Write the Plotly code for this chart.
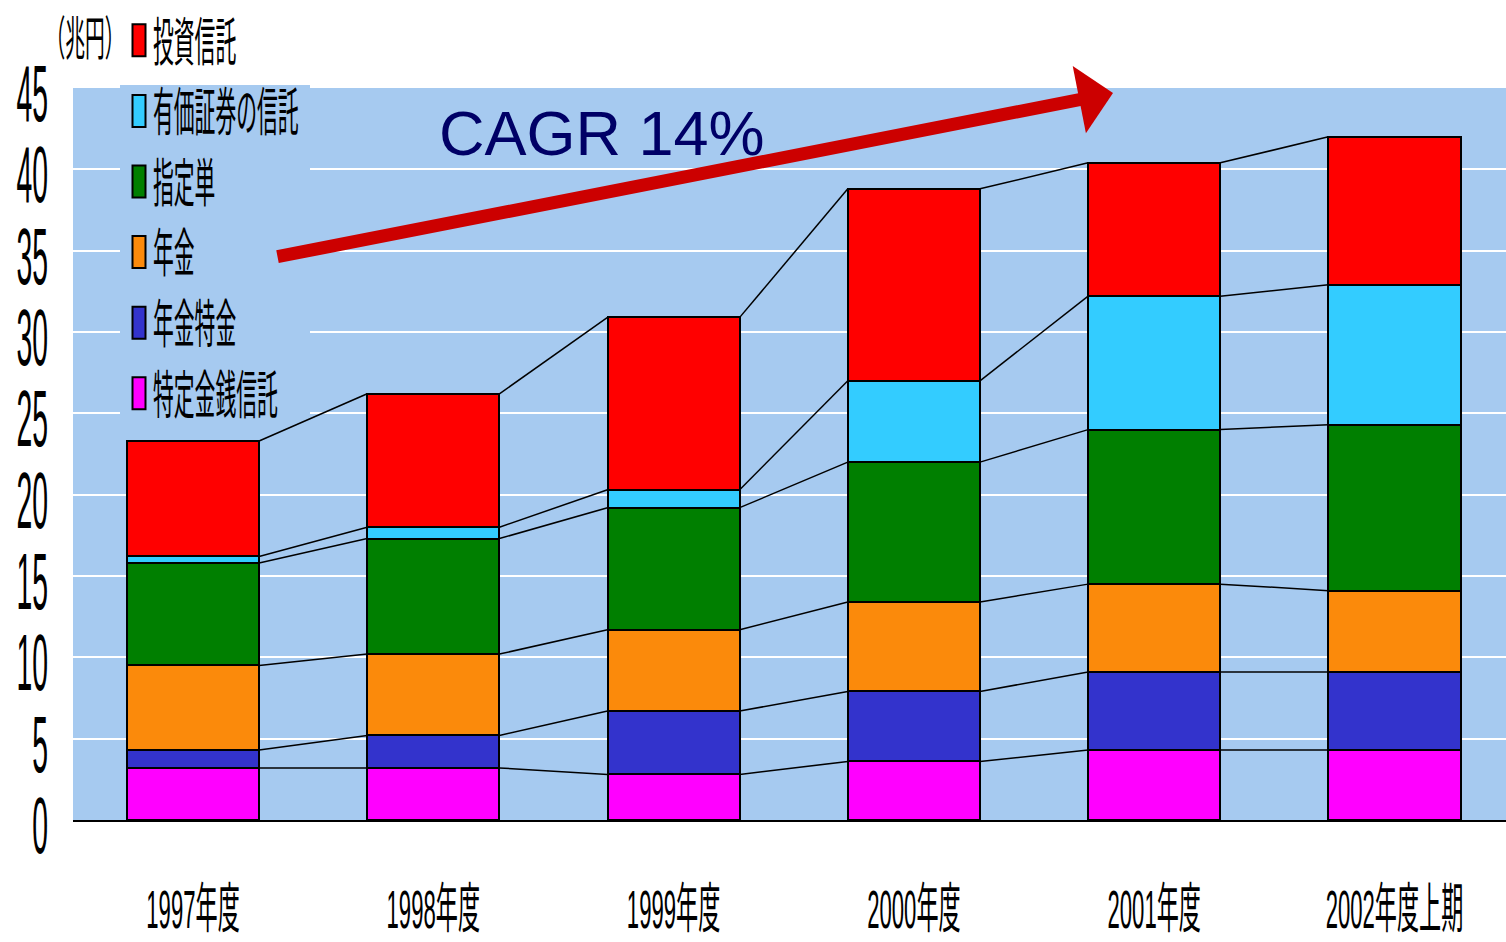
import plotly.graph_objects as go

# ---------------- data ----------------
years = ["1997年度", "1998年度", "1999年度", "2000年度", "2001年度", "2002年度上期"]
series_names = ["特定金銭信託", "年金特金", "年金", "指定単", "有価証券の信託", "投資信託"]
tokkin = [3.2, 3.2, 2.8, 3.6, 4.3, 4.3]
nenkin_tokkin = [1.1, 2.0, 3.9, 4.3, 4.8, 4.8]
nenkin = [5.2, 5.0, 5.0, 5.5, 5.4, 5.0]
shiteitan = [6.3, 7.1, 7.5, 8.6, 9.5, 10.2]
yuka_shoken = [0.4, 0.7, 1.1, 5.0, 8.2, 8.6]
toshin = [7.1, 8.2, 10.6, 11.8, 8.2, 9.1]
y_ticks = [0, 5, 10, 15, 20, 25, 30, 35, 40, 45]
unit_label = "（兆円）"
cagr_label = "CAGR 14%"

series_values = [tokkin, nenkin_tokkin, nenkin, shiteitan, yuka_shoken, toshin]
colors = ["#FF00FF", "#3333CC", "#FB8A0B", "#007F00", "#33CCFF", "#FF0000"]

BAR_W = 0.55
xs = list(range(len(years)))

fig = go.Figure()
for name, vals, col in zip(series_names, series_values, colors):
    fig.add_trace(go.Bar(
        x=xs, y=vals, name=name, width=BAR_W,
        marker=dict(color=col, line=dict(color="black", width=2)),
    ))

# connector lines between stacked boundaries
cum = [0.0] * len(years)
for vals in series_values:
    cum = [c + v for c, v in zip(cum, vals)]
    lx, ly = [], []
    for i in range(len(years) - 1):
        lx += [xs[i] + BAR_W / 2, xs[i + 1] - BAR_W / 2, None]
        ly += [cum[i], cum[i + 1], None]
    fig.add_trace(go.Scatter(x=lx, y=ly, mode="lines", showlegend=False,
                             line=dict(color="black", width=1.5), hoverinfo="skip"))

W, H = 1506, 942
L, R, T, B = 73, 0, 88, 122
PW, PH = W - L - R, H - T - B


def px(xp):
    return (xp - L) / PW


def py(yp):
    return (H - B - yp) / PH


BG = "#A6CAF0"
fig.update_layout(
    width=W, height=H,
    margin=dict(l=L, r=R, t=T, b=B, pad=0, autoexpand=False),
    paper_bgcolor="white", plot_bgcolor=BG,
    barmode="stack", bargap=0,
    showlegend=True,
    legend=dict(
        x=px(113), y=py(0), xanchor="left", yanchor="top",
        traceorder="reversed", bgcolor="rgba(0,0,0,0)", tracegroupgap=0,
        font=dict(family="Liberation Sans, Noto Sans CJK JP", size=52, color="black"),
    ),
    xaxis=dict(
        range=[-0.4994, 5.464], tickmode="array", tickvals=xs, ticktext=years,
        showgrid=False, zeroline=False, showline=True, linecolor="black", linewidth=2,
        ticks="", ticklabelstandoff=41, tickangle=0, automargin=False,
        ticklabeloverflow="allow",
        tickfont=dict(family="Liberation Sans, Noto Sans CJK JP", size=54, color="black"),
        fixedrange=True,
    ),
    yaxis=dict(
        range=[0, 45], tickmode="array", tickvals=y_ticks,
        showgrid=True, gridcolor="white", gridwidth=2, zeroline=False,
        showline=False, ticks="", ticklabelstandoff=24, automargin=False,
        ticklabeloverflow="allow",
        tickfont=dict(family="Liberation Sans", size=80, color="black"),
        fixedrange=True,
    ),
    shapes=[dict(type="rect", xref="paper", yref="paper",
                 x0=px(120), x1=px(310), y0=py(417), y1=py(85),
                 fillcolor=BG, line=dict(width=0), layer="above")],
    annotations=[
        dict(text=unit_label, xref="paper", yref="paper", x=px(85), y=py(34),
             xanchor="center", yanchor="middle", showarrow=False,
             font=dict(family="Noto Sans CJK JP", size=47, color="black")),
        dict(text=cagr_label, xref="paper", yref="paper", x=px(602), y=py(133),
             xanchor="center", yanchor="middle", showarrow=False,
             font=dict(family="Liberation Sans", size=63, color="#000066")),
        dict(text="", xref="paper", yref="paper", axref="pixel", ayref="pixel",
             x=px(1113), y=py(93), ax=276 - 1113, ay=257 - 93,
             showarrow=True, arrowhead=1, arrowsize=0.88, arrowwidth=13,
             arrowcolor="#CC0000", standoff=0, startstandoff=0),
    ],
)

post = """
document.body.style.margin = '0';
var gd = document.getElementById('{plot_id}');
function sq(sel, sx, dy) {
  gd.querySelectorAll(sel).forEach(function (t) {
    var cur = t.getAttribute('transform') || '';
    if (t.__sq === cur) return;
    var x = parseFloat(t.getAttribute('x')) || 0;
    var nt = cur + ' translate(0,' + dy + ') translate(' + x + ',0) scale(' + sx + ',1) translate(' + (-x) + ',0)';
    t.setAttribute('transform', nt);
    t.__sq = nt;
  });
}
function apply() {
  sq('g.ytick text', 0.355, 5);
  sq('g.xtick text', 0.41, 0);
  sq('text.legendtext', 0.40, 0);
  sq('g.annotation[data-index="0"] text', 0.42, 0);
  gd.querySelectorAll('.legendpoints path').forEach(function (p) {
    p.setAttribute('d', 'M12.5,16H-0.5V-16H12.5Z');
  });
  gd.querySelectorAll('path.annotation-arrow').forEach(function (p) {
    p.setAttribute('stroke-linecap', 'round');
    p.style.strokeLinecap = 'round';
  });
}
apply();
gd.on('plotly_afterplot', apply);
"""

fig.write_html("out.html", post_script=post, config={"staticPlot": True})
